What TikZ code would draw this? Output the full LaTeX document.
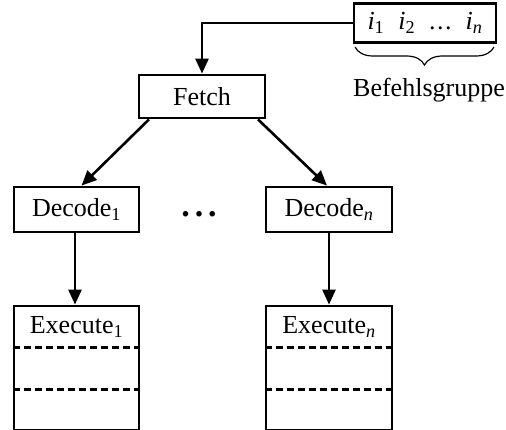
\documentclass[tikz,border=0pt]{standalone}
\usepackage{fontspec}
\setmainfont{Liberation Serif}
\usetikzlibrary{arrows.meta,calc,decorations.pathreplacing}

\begin{document}
\begin{tikzpicture}[x=1pt,y=-1pt,
    every node/.style={font=\fontsize{26}{30}\selectfont, inner sep=0pt},
    box/.style={draw, line width=2.8pt, fill=white},
    flow/.style={line width=2.6pt, -{Triangle[length=15pt,width=13pt]}},
    divider/.style={line width=2.6pt, dash pattern=on 7pt off 4pt},
  ]
  \useasboundingbox[fill=white] (0,0) rectangle (506,430);

  % instruction group
  \node[box, minimum width=142, minimum height=39] (grp) at (425,23)
    {\textit{i}\textsubscript{1}\hspace{14pt}\textit{i}\textsubscript{2}\hspace{14pt}.\hspace{1.5pt}.\hspace{1.5pt}.\hspace{14pt}\textit{i}\textsubscript{\textit{n}}};
  \coordinate (brA) at (355,47);
  \coordinate (brB) at (494,47);
  \draw[line width=1.2pt, decorate,
        decoration={brace, mirror, amplitude=18pt}] (brA) -- (brB);
  \node (grplabel) at (429,90) {Befehlsgruppe};

  % fetch stage
  \node[box, minimum width=126, minimum height=43] (fetch) at (202,96.5) {Fetch};

  % decode stages
  \node[box, minimum width=125, minimum height=45] (dec1) at (76.5,209.5) {Decode\textsubscript{1}};
  \node[box, minimum width=126, minimum height=45] (decn) at (329,209.5) {Decode\textsubscript{\textit{n}}};
  \node[font=\fontsize{34}{40}\bfseries] (dots) at (199,214) {.\hspace{5pt}.\hspace{5pt}.};

  % execute stages
  \node[box, minimum width=125, minimum height=124] (ex1) at (76.5,368) {};
  \node[box, minimum width=126, minimum height=124] (exn) at (329,368) {};
  \node (ex1t) at (76.5,327) {Execute\textsubscript{1}};
  \node (exnt) at (329,327) {Execute\textsubscript{\textit{n}}};
  \foreach \e in {ex1,exn}{
    \draw[divider] ($(\e.north west)+(0,43)$) -- ($(\e.north east)+(0,43)$);
    \draw[divider] ($(\e.north west)+(0,85)$) -- ($(\e.north east)+(0,85)$);
  }

  % connectors
  \draw[flow] (grp.west) -| (fetch.north);
  \draw[flow] ($(fetch.south)+(-53,0)$) -- ($(dec1.north)+(5,0)$);
  \draw[flow] ($(fetch.south)+(56,0)$) -- ($(decn.north)+(-2,0)$);
  \draw[flow] ($(dec1.south)+(-1.5,0)$) -- ($(ex1.north)+(-1.5,0)$);
  \draw[flow] (decn.south) -- (exn.north);
\end{tikzpicture}
\end{document}
